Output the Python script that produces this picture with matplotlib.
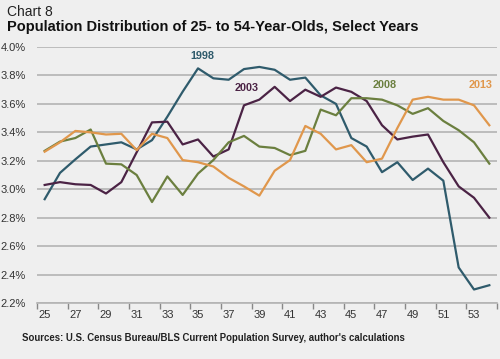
import matplotlib
matplotlib.use("Agg")
import matplotlib.pyplot as plt
import numpy as np

# ages 25..54
ages = list(range(25, 55))

# share of 25-54 population, percent
pop_1998 = [2.93, 3.115, 3.21, 3.30, 3.315, 3.33, 3.28, 3.345, 3.51, 3.686,
            3.85, 3.78, 3.77, 3.845, 3.86, 3.84, 3.77, 3.785, 3.66, 3.60,
            3.36, 3.30, 3.12, 3.19, 3.065, 3.145, 3.06, 2.45, 2.295, 2.325]
pop_2003 = [3.03, 3.05, 3.035, 3.03, 2.97, 3.05, 3.26, 3.47, 3.475, 3.315,
            3.35, 3.23, 3.28, 3.59, 3.63, 3.72, 3.62, 3.70, 3.65, 3.715,
            3.685, 3.62, 3.45, 3.35, 3.37, 3.385, 3.19, 3.02, 2.94, 2.80]
pop_2008 = [3.27, 3.335, 3.36, 3.42, 3.18, 3.175, 3.10, 2.91, 3.09, 2.96,
            3.11, 3.205, 3.33, 3.375, 3.30, 3.29, 3.24, 3.27, 3.56, 3.52,
            3.64, 3.64, 3.63, 3.59, 3.53, 3.57, 3.48, 3.415, 3.33, 3.18]
pop_2013 = [3.264, 3.33, 3.41, 3.40, 3.385, 3.39, 3.275, 3.39, 3.36, 3.205,
            3.19, 3.16, 3.08, 3.02, 2.955, 3.13, 3.205, 3.445, 3.39, 3.28,
            3.31, 3.19, 3.215, 3.43, 3.63, 3.65, 3.63, 3.63, 3.59, 3.45]

plt.rcParams['font.family'] = ['Liberation Sans', 'DejaVu Sans']
bg = '#efefef'

fig = plt.figure(figsize=(5, 3.59), dpi=100, facecolor=bg)
ax = fig.add_axes([0.074, 0.156, 0.92, 0.713], facecolor=bg)

c98, c03, c08, c13 = '#2f5b6c', '#4b2345', '#6b7f3f', '#e0974c'
ax.plot(ages, pop_1998, color=c98, lw=1.6)
ax.plot(ages, pop_2003, color=c03, lw=1.6)
ax.plot(ages, pop_2008, color=c08, lw=1.6)
ax.plot(ages, pop_2013, color=c13, lw=1.6)

ax.text(35.3, 3.937, '1998', color=c98, fontsize=7.8, fontweight='bold', ha='center', va='center')
ax.text(38.15, 3.71, '2003', color=c03, fontsize=7.8, fontweight='bold', ha='center', va='center')
ax.text(47.2, 3.73, '2008', color=c08, fontsize=7.8, fontweight='bold', ha='center', va='center')
ax.text(53.45, 3.73, '2013', color=c13, fontsize=7.8, fontweight='bold', ha='center', va='center')

ax.set_xlim(24.5, 54.5)
ax.set_ylim(2.2, 4.0)
yt = np.arange(2.2, 4.01, 0.2)
ax.set_yticks(yt)
ax.set_yticklabels(['%.1f%%' % v for v in yt])
ax.yaxis.grid(True, color='#b4b4b4', lw=1.2)
ax.set_axisbelow(True)

# category boundaries get the tick marks, odd ages get the labels
ax.set_xticks(np.arange(24.5, 55, 2))
ax.set_xticklabels([])
ax.set_xticks(np.arange(25, 55, 2), minor=True)
ax.set_xticklabels([str(a) for a in range(25, 55, 2)], minor=True)
ax.tick_params(axis='x', which='major', length=4, color='#888888', width=1)
ax.tick_params(axis='x', which='minor', length=0, pad=5, labelsize=8, labelcolor='#333333')
ax.tick_params(axis='y', length=0, pad=8, labelsize=8, labelcolor='#333333')

for s in ['top', 'right', 'left']:
    ax.spines[s].set_visible(False)
ax.spines['bottom'].set_color('#b4b4b4')
ax.spines['bottom'].set_linewidth(1.2)

fig.text(0.014, 0.967, 'Chart 8', fontsize=10, color='#222222', va='center')
fig.text(0.014, 0.925, 'Population Distribution of 25- to 54-Year-Olds, Select Years',
         fontsize=10.5, fontweight='bold', color='#111111', va='center')
fig.text(0.044, 0.058, "Sources: U.S. Census Bureau/BLS Current Population Survey, author's calculations",
         fontsize=6.9, fontweight='bold', color='#222222', va='center')

fig.savefig('out.png', dpi=100, facecolor=bg)
